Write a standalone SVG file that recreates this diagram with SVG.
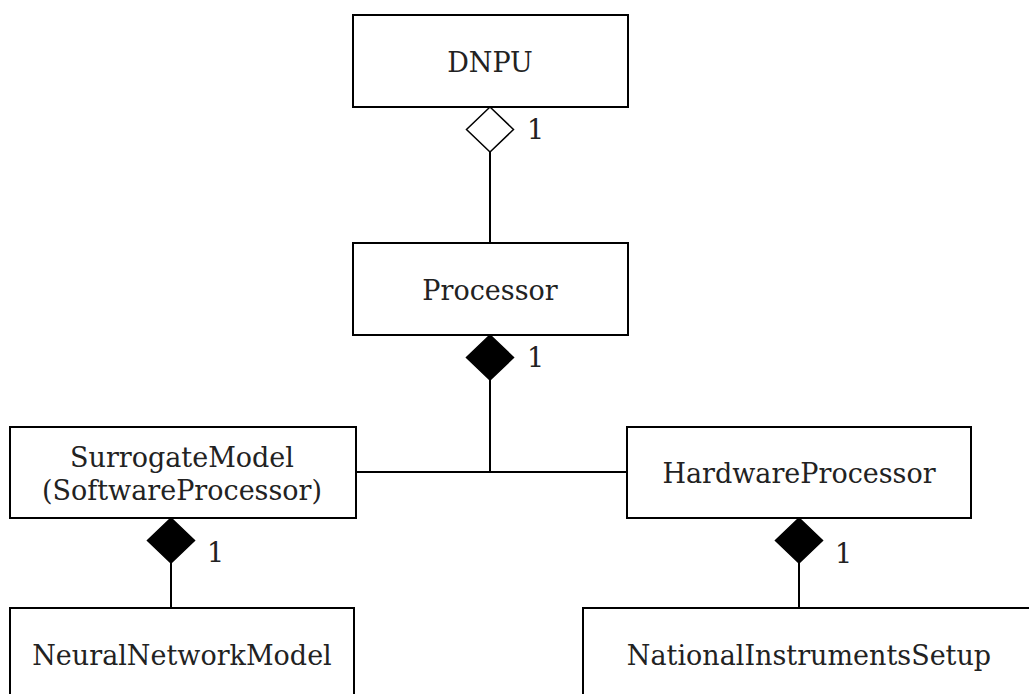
<svg xmlns="http://www.w3.org/2000/svg" width="1029" height="694" viewBox="0 0 1029 694">
  <style>
    .box { fill: #ffffff; stroke: #000000; stroke-width: 2; }
    .lbl { font-family: "DejaVu Serif", serif; font-size: 27px; fill: #222222; text-anchor: middle; }
    .mult { font-family: "DejaVu Serif", serif; font-size: 27px; fill: #222222; }
    .edge { fill: none; stroke: #000000; stroke-width: 2; }
    .agg { fill: #ffffff; stroke: #000000; stroke-width: 1.5; }
    .comp { fill: #000000; stroke: #000000; stroke-width: 1.5; }
  </style>
  <rect width="1029" height="694" fill="#ffffff"/>

  <g id="connectors">
    <!-- DNPU aggregates Processor (hollow diamond) -->
    <line class="edge" x1="490" y1="152" x2="490" y2="243"/>
    <polygon class="agg" points="490,107 513.5,129.5 490,152 466.5,129.5"/>
    <text class="mult" x="527" y="139">1</text>
    <!-- Processor composed of SurrogateModel and HardwareProcessor -->
    <line class="edge" x1="490" y1="380" x2="490" y2="472"/>
    <line class="edge" x1="356" y1="472" x2="627" y2="472"/>
    <polygon class="comp" points="490,335 513.5,357.5 490,380 466.5,357.5"/>
    <text class="mult" x="527" y="367">1</text>
    <!-- SurrogateModel composed of NeuralNetworkModel -->
    <line class="edge" x1="171" y1="563" x2="171" y2="608"/>
    <polygon class="comp" points="171,518 194.5,540.5 171,563 147.5,540.5"/>
    <text class="mult" x="207" y="562">1</text>
    <!-- HardwareProcessor composed of NationalInstrumentsSetup -->
    <line class="edge" x1="799" y1="563" x2="799" y2="608"/>
    <polygon class="comp" points="799,518 822.5,540.5 799,563 775.5,540.5"/>
    <text class="mult" x="835" y="563">1</text>
  </g>

  <g id="dnpu">
    <rect class="box" x="353" y="15" width="275" height="92"/>
    <text class="lbl" x="490" y="72">DNPU</text>
  </g>

  <g id="processor">
    <rect class="box" x="353" y="243" width="275" height="92"/>
    <text class="lbl" x="490" y="300">Processor</text>
  </g>

  <g id="surrogate-model">
    <rect class="box" x="10" y="427" width="346" height="91"/>
    <text class="lbl" x="182" y="467">SurrogateModel</text>
    <text class="lbl" x="182" y="500">(SoftwareProcessor)</text>
  </g>

  <g id="hardware-processor">
    <rect class="box" x="627" y="427" width="344" height="91"/>
    <text class="lbl" x="799" y="483">HardwareProcessor</text>
  </g>

  <g id="neural-network-model">
    <rect class="box" x="10" y="608" width="344" height="100"/>
    <text class="lbl" x="182" y="665">NeuralNetworkModel</text>
  </g>

  <g id="national-instruments-setup">
    <rect class="box" x="583" y="608" width="460" height="100"/>
    <text class="lbl" x="809" y="665">NationalInstrumentsSetup</text>
  </g>
</svg>
